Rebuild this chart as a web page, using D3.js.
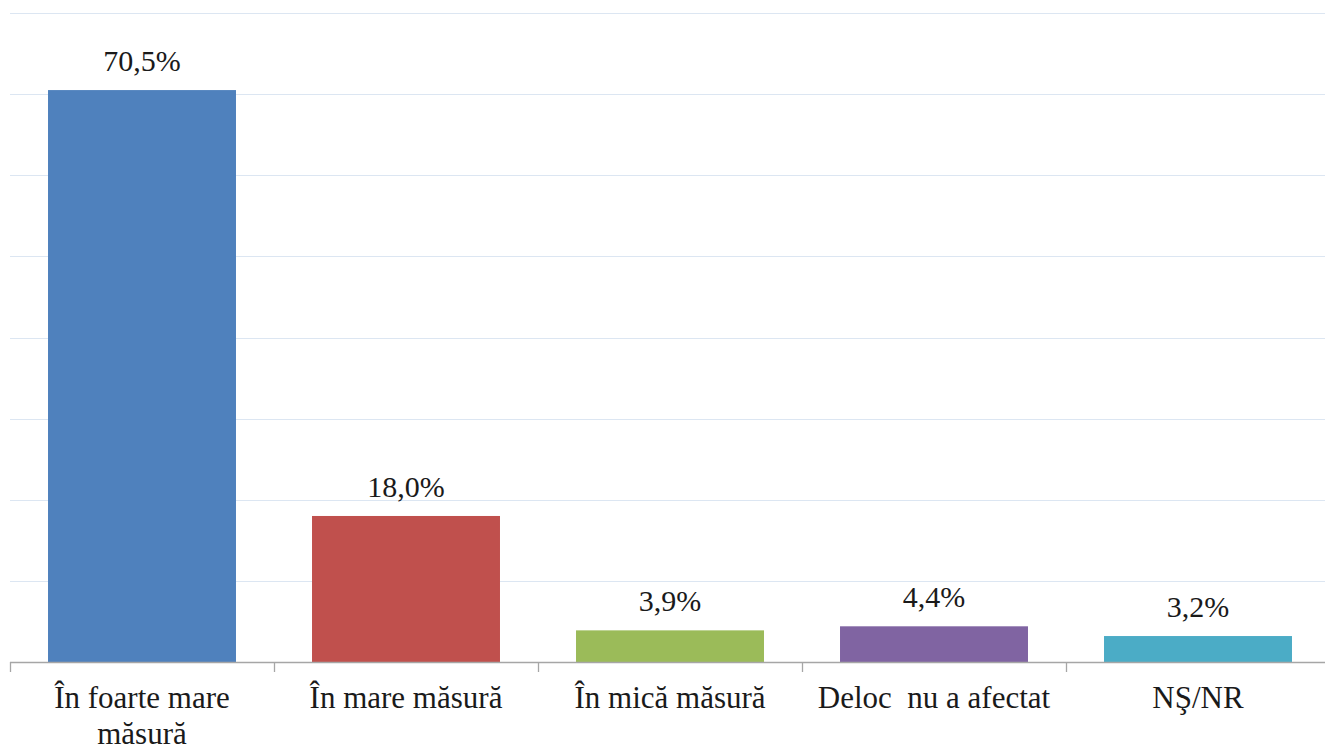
<!DOCTYPE html>
<html><head><meta charset="utf-8">
<script src="https://cdn.jsdelivr.net/npm/d3@7"></script>
<style>
html,body{margin:0;padding:0;background:#fff;}
svg{display:block;}
</style></head>
<body>
<svg id="chart" width="1325" height="750"></svg>
<script>
const categories = ["În foarte mare măsură", "În mare măsură", "În mică măsură", "Deloc  nu a afectat", "NŞ/NR"];
const values = [70.5, 18.0, 3.9, 4.4, 3.2];
const labels = ["70,5%", "18,0%", "3,9%", "4,4%", "3,2%"];
const colors = ["#4F81BD", "#C0504D", "#9BBB59", "#8064A2", "#4BACC6"];
const yTicks = [0, 10, 20, 30, 40, 50, 60, 70, 80];

const FONT = '"Liberation Serif"';
const svg = d3.select("#chart");
const mLeft = 10, mRight = 1330, mTop = 13, mBottom = 662;

const x = d3.scaleBand().domain(categories).range([mLeft, mRight]).paddingInner(0.288).paddingOuter(0.144);
const y = d3.scaleLinear().domain([0, 80]).range([mBottom, mTop]);

// gridlines
svg.append("g").selectAll("line").data(yTicks.filter(d => d > 0)).join("line")
  .attr("x1", mLeft).attr("x2", 1325)
  .attr("y1", d => Math.round(y(d)) + 0.5).attr("y2", d => Math.round(y(d)) + 0.5)
  .attr("stroke", "#dce6f2").attr("stroke-width", 1.2);

// bars
svg.append("g").selectAll("rect").data(categories).join("rect")
  .attr("x", d => x(d)).attr("width", x.bandwidth())
  .attr("y", (d, i) => y(values[i])).attr("height", (d, i) => mBottom - y(values[i]))
  .attr("fill", (d, i) => colors[i]);

// value labels
svg.append("g").selectAll("text").data(categories).join("text")
  .attr("x", d => x(d) + x.bandwidth() / 2)
  .attr("y", (d, i) => y(values[i]) - 19)
  .attr("text-anchor", "middle")
  .style("font-family", FONT).style("font-size", "30px").style("fill", "#1a1a1a")
  .text((d, i) => labels[i]);

// x axis
const step = x.step();
const tickPos = d3.range(categories.length + 1).map(i => mLeft + i * step);
const ax = svg.append("g");
ax.append("line").attr("x1", mLeft).attr("x2", 1325).attr("y1", mBottom + 0.5).attr("y2", mBottom + 0.5)
  .attr("stroke", "#a6a6a6").attr("stroke-width", 1.3);
ax.selectAll("line.tick").data(tickPos).join("line").attr("class", "tick")
  .attr("x1", d => Math.round(d) + 0.5).attr("x2", d => Math.round(d) + 0.5)
  .attr("y1", mBottom).attr("y2", mBottom + 10)
  .attr("stroke", "#a6a6a6").attr("stroke-width", 1.3);

// category labels with wrapping
const maxW = 250;
categories.forEach((c, i) => {
  const cx = x(c) + x.bandwidth() / 2;
  const t = ax.append("text")
    .attr("x", cx).attr("y", 708)
    .attr("text-anchor", "middle")
    .style("font-family", FONT).style("font-size", "31px").style("fill", "#1a1a1a")
    .style("white-space", "pre");
  const words = c.split(" ");
  let line = [];
  let tspan = t.append("tspan").attr("x", cx).attr("dy", 0);
  words.forEach(w => {
    line.push(w);
    tspan.text(line.join(" "));
    if (tspan.node().getComputedTextLength() > maxW && line.length > 1) {
      line.pop();
      tspan.text(line.join(" "));
      line = [w];
      tspan = t.append("tspan").attr("x", cx).attr("dy", 36).text(w);
    }
  });
});
</script>
</body></html>
